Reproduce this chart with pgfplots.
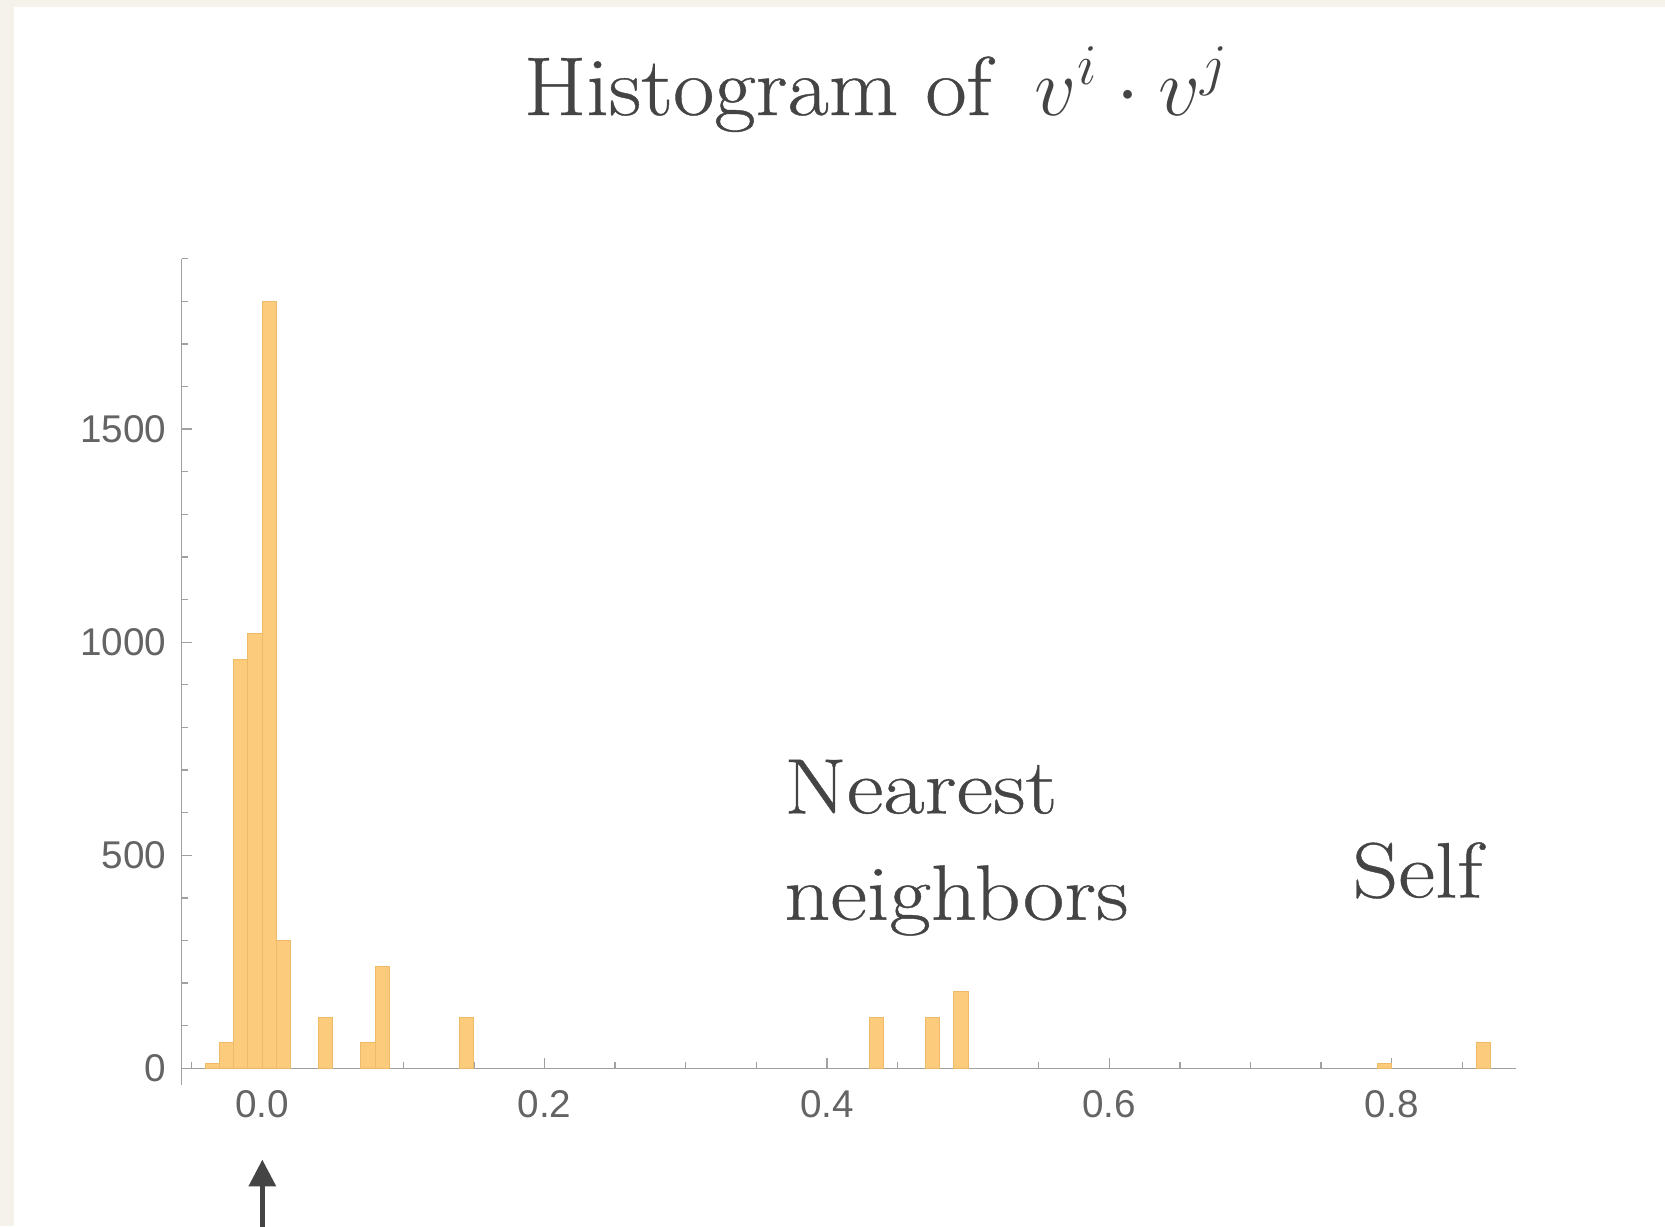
\documentclass[border=0pt]{standalone}
\usepackage{pgfplots}
\pgfplotsset{compat=1.18}
\usepackage{fontspec}
\newfontfamily\ticksfont{Liberation Sans}
\newfontfamily\annfont[FakeStretch=1.15, FakeBold=0.5]{Latin Modern Roman}
\newfontfamily\titfont[FakeStretch=1.08, FakeBold=0.5]{Latin Modern Roman}
\usetikzlibrary{arrows.meta}
\definecolor{bgbeige}{RGB}{245,242,236}
\definecolor{barfill}{RGB}{252,204,124}
\definecolor{baredge}{RGB}{238,186,104}
\definecolor{axisgray}{RGB}{160,160,160}
\definecolor{ticklabel}{RGB}{100,100,100}
\definecolor{txt}{RGB}{68,68,68}
\definecolor{arrowgray}{RGB}{68,68,68}
\begin{document}
\begin{tikzpicture}
\useasboundingbox (0,0) rectangle (499.5pt,-367.8pt);
\fill[bgbeige] (0,0) rectangle (499.5pt,-367.8pt);
\fill[white] (4.2pt,-2.1pt) rectangle (499.5pt,-367.8pt);
\begin{axis}[
  at={(54.48pt,-325.6pt)}, anchor=south west,
  scale only axis, width=400.3pt, height=248.0pt,
  xmin=-0.057, xmax=0.888, ymin=-40, ymax=1900,
  axis x line=middle, axis y line=left,
  axis line style={draw=axisgray, line width=0.4pt, -},
  xtick={0,0.2,0.4,0.6,0.8},
  minor xtick={-0.05,0.05,0.1,0.15,0.25,0.3,0.35,0.45,0.5,0.55,0.65,0.7,0.75,0.85},
  ytick={0,500,1000,1500},
  minor ytick={100,200,300,400,600,700,800,900,1100,1200,1300,1400,1600,1700,1800,1900},
  hide obscured x ticks=false, hide obscured y ticks=false,
  tick align=inside,
  major tick length=3.2pt, minor tick length=1.8pt,
  every tick/.style={draw=axisgray, line width=0.4pt},
  every minor tick/.style={draw=axisgray, line width=0.4pt},
  tick label style={font=\ticksfont\fontsize{11.6}{14}\selectfont, text=ticklabel},
  xticklabel style={/pgf/number format/fixed, /pgf/number format/fixed zerofill, /pgf/number format/precision=1, yshift=-3pt},
  yticklabel style={xshift=-1pt},
  /pgf/number format/assume math mode=true,
  /pgf/number format/1000 sep={},
  clip=false,
]
\addplot[ybar, bar width=0.01, bar shift=0pt, fill=barfill, draw=baredge, line width=0.3pt] coordinates {
  (-0.035,12) (-0.025,60) (-0.015,960) (-0.005,1020) (0.005,1800) (0.015,300)
  (0.045,120) (0.075,60) (0.085,240) (0.145,120)
  (0.435,120) (0.475,120) (0.495,180)
  (0.795,12) (0.865,60)
};
\end{axis}
\node[anchor=base west, text=txt, font=\titfont\fontsize{25}{30}\selectfont, inner sep=0pt] at (157pt,-34.5pt) {Histogram of\hspace{13pt}$v^i \cdot v^j$};
\node[anchor=base west, text=txt, font=\annfont\fontsize{23.5}{28}\selectfont, inner sep=0pt] at (235.1pt,-244.0pt) {Nearest};
\node[anchor=base west, text=txt, font=\annfont\fontsize{23.5}{28}\selectfont, inner sep=0pt] at (235.1pt,-275.9pt) {neighbors};
\node[anchor=base west, text=txt, font=\annfont\fontsize{23.5}{28}\selectfont, inner sep=0pt] at (405.5pt,-269.2pt) {Self};
\draw[-{Triangle[width=8pt,length=8pt]}, line width=1.3pt, arrowgray] (78.7pt,-372pt) -- (78.7pt,-347.9pt);
\end{tikzpicture}
\end{document}
